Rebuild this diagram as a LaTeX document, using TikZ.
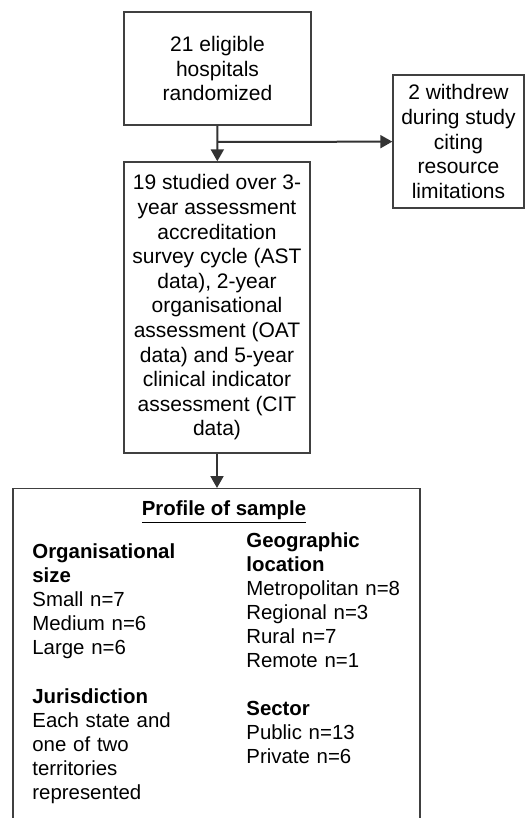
\documentclass[tikz,border=0pt]{standalone}
\usepackage{fontspec}
\setmainfont{Liberation Sans}
\usetikzlibrary{arrows.meta}

\begin{document}
\begin{tikzpicture}[
    x=0.5pt, y=-0.5pt,
    box/.style={rectangle, draw=black!75, line width=0.7pt, align=center, inner sep=0pt, font=\fontsize{10.5}{12.3}\selectfont},
    info/.style={anchor=base west, align=left, text width=100pt, inner sep=0pt, font=\fontsize{10.2}{12}\selectfont},
    arrow/.style={-{Triangle[length=6pt, width=6.5pt]}, line width=1pt, draw=black!80}
]
    \useasboundingbox (0,0) rectangle (525,818);
    \clip (0,0) rectangle (525,818);

    % Nodes
    \node[box, minimum width=93.5pt, minimum height=56.5pt] (hospitals) at (217.5,68.5) {21 eligible\\hospitals\\randomized};
    \node[box, minimum width=65.5pt, minimum height=66.5pt] (withdrew) at (458.5,141.5) {2 withdrew\\during study\\citing\\resource\\limitations};
    \node[box, minimum width=93pt, minimum height=145.5pt] (study) at (217,307.5) {19 studied over 3-\\year assessment\\accreditation\\survey cycle (AST\\data), 2-year\\organisational\\assessment (OAT\\data) and 5-year\\clinical indicator\\assessment (CIT\\data)};
    \node[box, minimum width=203.5pt, minimum height=180pt, anchor=north] (profile) at (216.5,488) {};

    % Profile text
    \node[anchor=base, inner sep=0pt, font=\fontsize{10.2}{12}\selectfont] (title) at (224,515) {\underline{\textbf{Profile of sample}}};
    \node[info] (orgsize) at (32,558) {\textbf{Organisational}\\\textbf{size}\\Small n=7\\Medium n=6\\Large n=6};
    \node[info] (jurisdiction) at (32,703) {\textbf{Jurisdiction}\\Each state and\\one of two\\territories\\represented};
    \node[info] (location) at (246,547) {\textbf{Geographic}\\\textbf{location}\\Metropolitan n=8\\Regional n=3\\Rural n=7\\Remote n=1};
    \node[info] (sector) at (246,715) {\textbf{Sector}\\Public n=13\\Private n=6};

    % Arrows
    \coordinate (split) at (217,142);
    \draw[arrow] (hospitals) -- (study);
    \draw[arrow] (split) -- (withdrew);
    \draw[arrow] (study.south) -- (study.south |- profile.north);
\end{tikzpicture}
\end{document}
